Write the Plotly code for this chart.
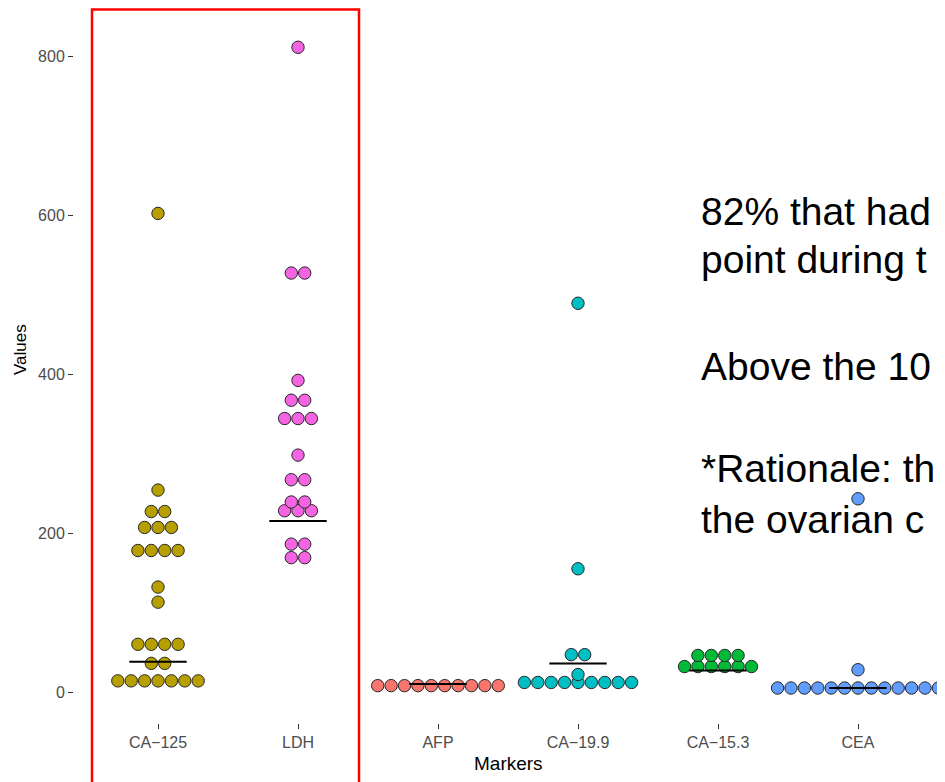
import plotly.graph_objects as go
from collections import Counter

# ---- data ----
categories = ["CA−125", "LDH", "AFP", "CA−19.9", "CA−15.3", "CEA"]
colors = ["#B79F00", "#F564E3", "#F8766D", "#00BFC4", "#00BA38", "#619CFF"]

ca125 = [14, 14, 14, 14, 14, 14, 14, 36, 36, 60, 60, 60, 60, 113, 132,
         178, 178, 178, 178, 207, 207, 207, 227, 227, 254, 602]
ldh = [169, 169, 186, 186, 228, 228, 228, 239, 239, 267, 267, 298,
       344, 344, 344, 367, 367, 392, 527, 527, 811]
afp = [8, 8, 8, 8, 8, 8, 8, 8, 8, 8]
ca199 = [12, 12, 12, 12, 12, 12, 12, 12, 12, 22, 47, 47, 155, 489]
ca153 = [32, 32, 32, 32, 32, 32, 46, 46, 46, 46]
cea = [5, 5, 5, 5, 5, 5, 5, 5, 5, 5, 5, 5, 5, 28, 243]

series = [ca125, ldh, afp, ca199, ca153, cea]
ref_limits = [38, 215, 10, 36, 27, 5]

slide_lines = ["82% that had", "point during t", "Above the 10",
               "*Rationale: th", "the ovarian c"]

# ---- layout constants (page body has an 8px margin) ----
OFF = 8
W, H = 945 - OFF, 782 - OFF
ML, MR, MT, MB = 74 - OFF, 3, 15 - OFF, 59
PW, PH = W - ML - MR, H - MT - MB
DOT_STEP = 0.0957   # horizontal stacking step (category units)
HALF_LINE = 0.205


def px2x(px):
    return (px - OFF - ML) / PW


def py2y(py):
    return (H - MB - (py - OFF)) / PH


fig = go.Figure()

# dot plots (stacked, centred)
for i, vals in enumerate(series):
    xs, ys = [], []
    counts = Counter(vals)
    for v, n in counts.items():
        for k in range(n):
            xs.append(i + (k - (n - 1) / 2) * DOT_STEP)
            ys.append(v)
    fig.add_trace(go.Scatter(
        x=xs, y=ys, mode="markers",
        marker=dict(size=12.4, color=colors[i],
                    line=dict(color="#262626", width=1)),
        showlegend=False, hoverinfo="y"))

# reference limit lines
for i, lim in enumerate(ref_limits):
    fig.add_trace(go.Scatter(
        x=[i - HALF_LINE, i + HALF_LINE], y=[lim, lim], mode="lines",
        line=dict(color="black", width=2), showlegend=False,
        hoverinfo="skip"))

annotations = []
# slide text
line_mid_y = [211, 259, 366, 469, 520]
for txt, yy in zip(slide_lines, line_mid_y):
    annotations.append(dict(
        text=txt, xref="paper", yref="paper", x=px2x(699), y=py2y(yy),
        xanchor="left", yanchor="middle", showarrow=False,
        font=dict(family="Liberation Sans, Arial", size=39, color="black")))

# axis titles
annotations.append(dict(
    text="Values", xref="paper", yref="paper", x=px2x(20), y=py2y(350),
    xanchor="center", yanchor="middle", textangle=-90, showarrow=False,
    font=dict(family="Liberation Sans, Arial", size=17, color="black")))
annotations.append(dict(
    text="Markers", xref="paper", yref="paper", x=px2x(508), y=py2y(763),
    xanchor="center", yanchor="middle", showarrow=False,
    font=dict(family="Liberation Sans, Arial", size=19, color="black")))

shapes = [
    # red highlight box
    dict(type="rect", xref="paper", yref="paper",
         x0=px2x(92), x1=px2x(359), y0=py2y(800), y1=py2y(9.5),
         line=dict(color="#FF0000", width=2.5), fillcolor="rgba(0,0,0,0)"),
]

fig.update_layout(
    width=W, height=H,
    margin=dict(l=ML, r=MR, t=MT, b=MB),
    paper_bgcolor="white", plot_bgcolor="white",
    font=dict(family="Liberation Sans, Arial"),
    xaxis=dict(range=[-0.6, 5.6], tickmode="array",
               tickvals=list(range(len(categories))), ticktext=categories,
               showgrid=False, zeroline=False, showline=False,
               ticks="outside", ticklen=5, tickwidth=1, tickcolor="#333333",
               tickfont=dict(size=16, color="#4D4D4D")),
    yaxis=dict(range=[-39, 851.6], tickvals=[0, 200, 400, 600, 800],
               showgrid=False, zeroline=False, showline=False,
               ticks="outside", ticklen=5, tickwidth=1, tickcolor="#333333",
               tickfont=dict(size=16, color="#4D4D4D")),
    annotations=annotations,
    shapes=shapes,
)

fig.write_html("out.html")
